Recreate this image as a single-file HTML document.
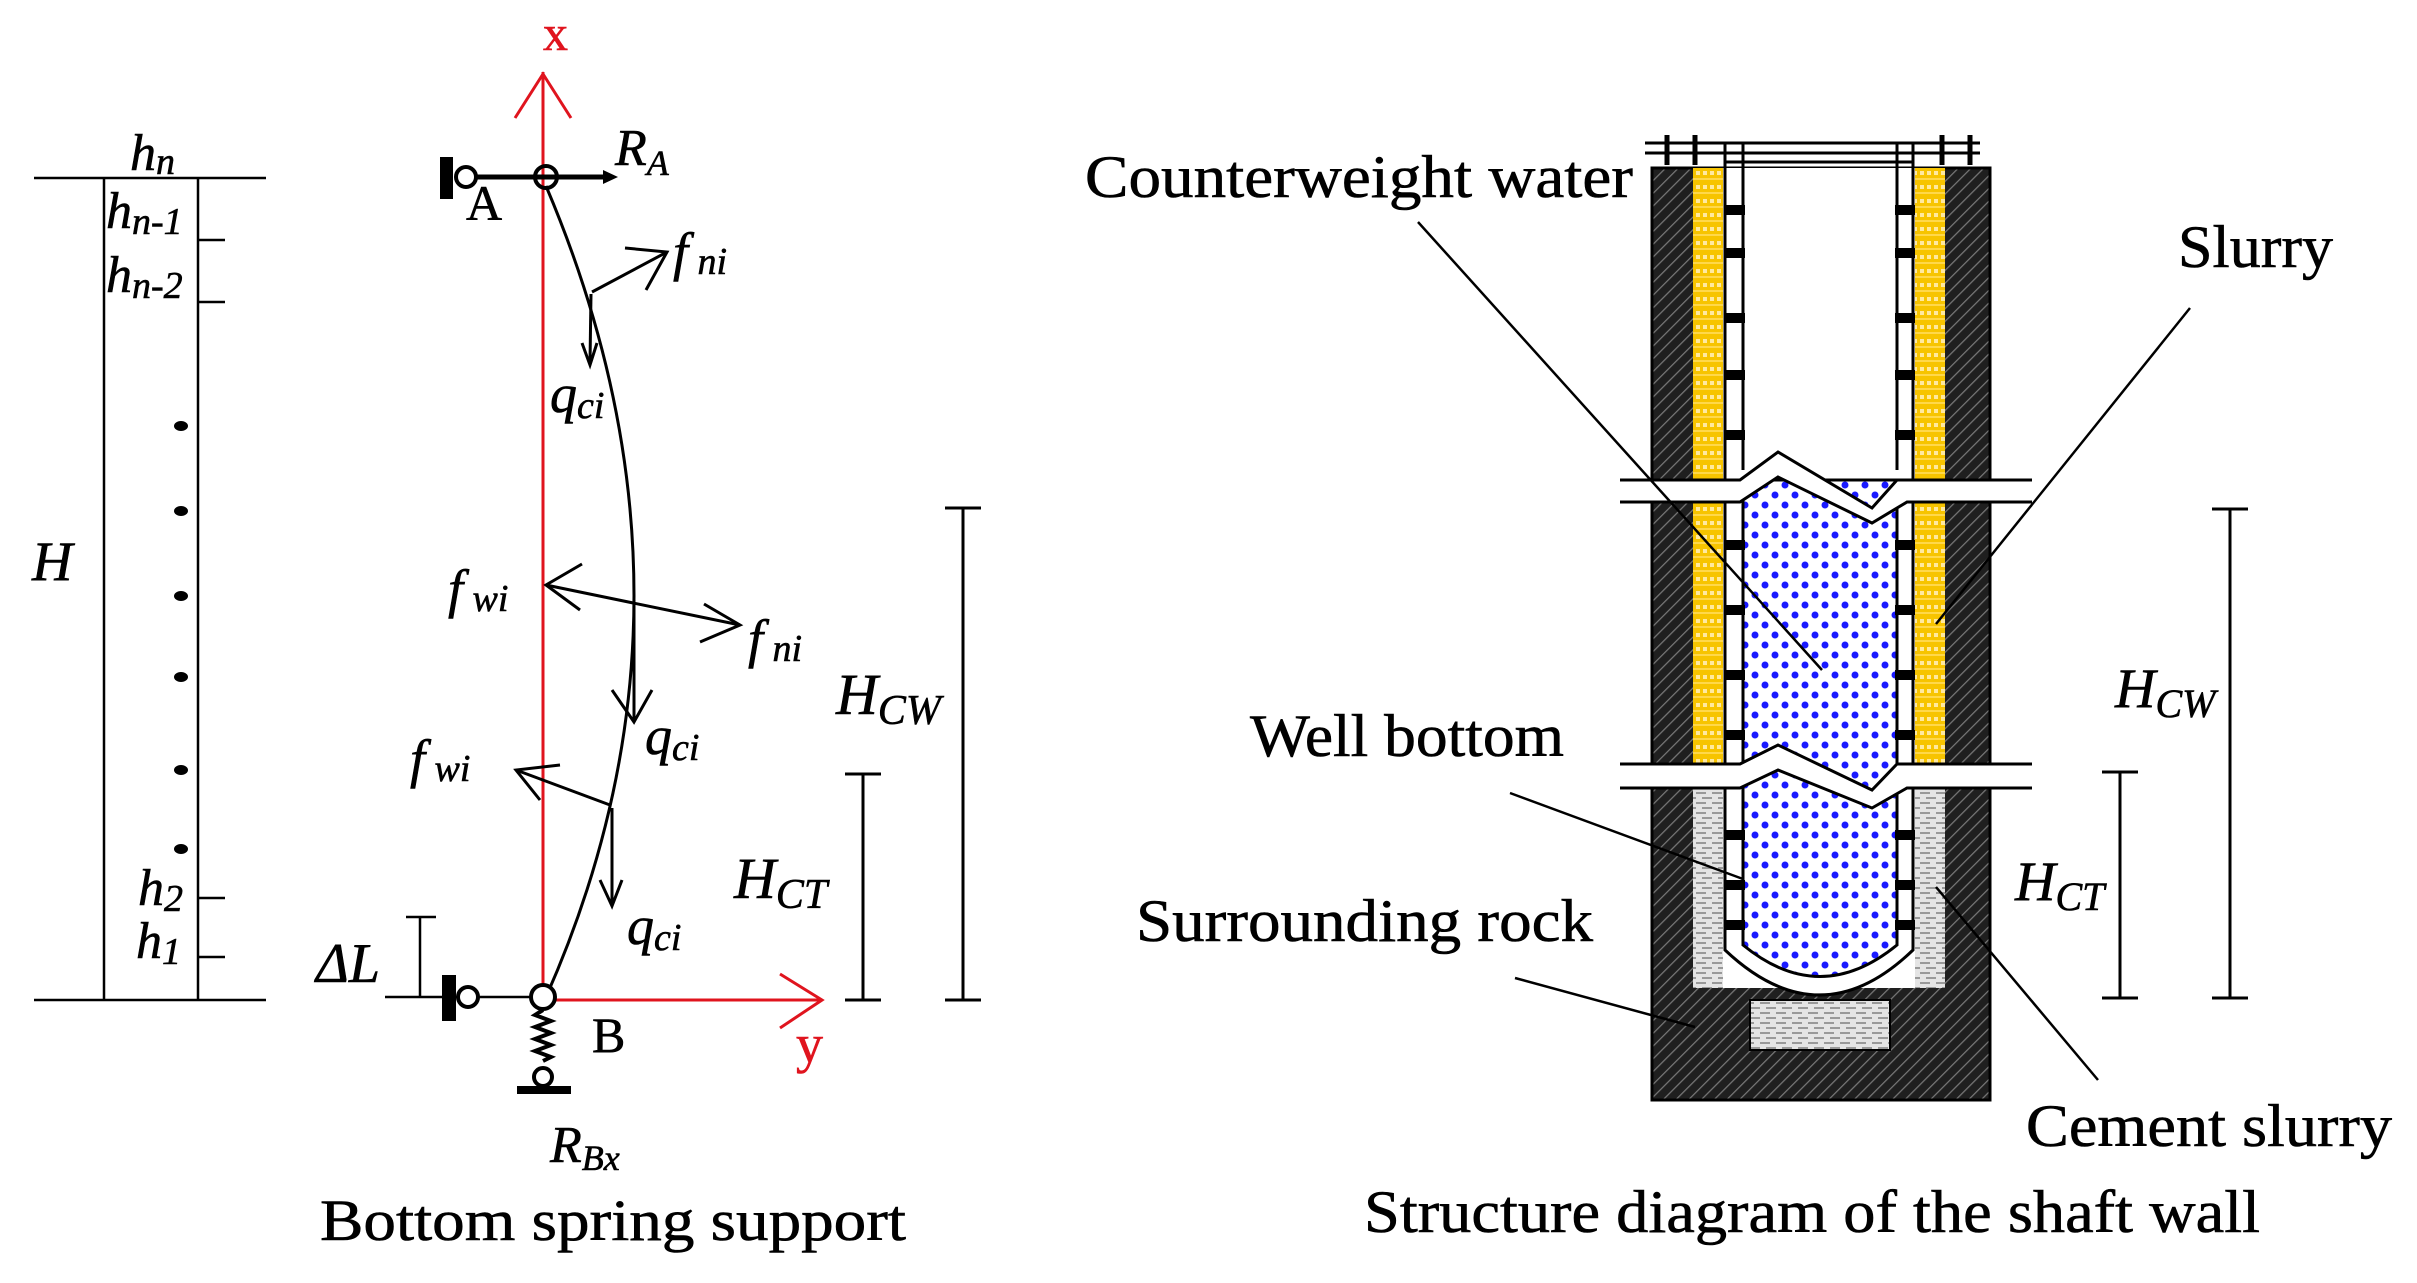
<!DOCTYPE html>
<html><head><meta charset="utf-8"><style>
html,body{margin:0;padding:0;background:#fff;}
svg{display:block;}
text{font-family:"Liberation Serif",serif;fill:#000;stroke:#000;stroke-width:0.6px;}
.it{font-style:italic;}
</style></head><body>
<svg width="2417" height="1283" viewBox="0 0 2417 1283" xmlns="http://www.w3.org/2000/svg">
<defs>
<pattern id="hatch" width="9" height="9" patternUnits="userSpaceOnUse" patternTransform="rotate(45)">
<rect width="9" height="9" fill="#1f1f1f"/><line x1="0" y1="0" x2="0" y2="9" stroke="#777" stroke-width="2.5"/>
</pattern>
<pattern id="yel" width="14" height="14" patternUnits="userSpaceOnUse">
<rect width="14" height="14" fill="#f7c400"/><rect x="2" y="3" width="4" height="4" fill="#ffe9a0"/><rect x="9" y="3" width="4" height="4" fill="#ffe9a0"/><rect x="0" y="10" width="14" height="2" fill="#ffd84a"/>
</pattern>
<pattern id="grey" width="16" height="10" patternUnits="userSpaceOnUse">
<rect width="16" height="10" fill="#e4e4e4"/><line x1="0" y1="3" x2="10" y2="3" stroke="#999" stroke-width="2"/><line x1="6" y1="8" x2="16" y2="8" stroke="#999" stroke-width="2"/>
</pattern>
<pattern id="dots" width="20" height="20" patternUnits="userSpaceOnUse">
<rect width="20" height="20" fill="#fff"/><circle cx="5" cy="5" r="3.5" fill="#1a1aff"/><circle cx="15" cy="15" r="3.5" fill="#1a1aff"/>
</pattern>
</defs>

<!-- LEFT: height column -->
<g stroke="#000" stroke-width="2.5" fill="none">
<line x1="34" y1="178" x2="266" y2="178"/>
<line x1="34" y1="1000" x2="266" y2="1000"/>
<line x1="104" y1="178" x2="104" y2="1000"/>
<line x1="198" y1="178" x2="198" y2="1000"/>
<line x1="198" y1="240" x2="225" y2="240"/>
<line x1="198" y1="302" x2="225" y2="302"/>
<line x1="198" y1="898" x2="225" y2="898"/>
<line x1="198" y1="957" x2="225" y2="957"/>
</g>
<g fill="#000">
<ellipse cx="181" cy="426" rx="7" ry="5"/><ellipse cx="181" cy="511" rx="7" ry="5"/><ellipse cx="181" cy="596" rx="7" ry="5"/>
<ellipse cx="181" cy="677" rx="7" ry="5"/><ellipse cx="181" cy="770" rx="7" ry="5"/><ellipse cx="181" cy="849" rx="7" ry="5"/>
</g>
<text class="it" x="130" y="170" font-size="52">h<tspan font-size="38" dy="4">n</tspan></text>
<text class="it" x="106" y="228" font-size="52">h<tspan font-size="38" dy="6">n-1</tspan></text>
<text class="it" x="106" y="292" font-size="52">h<tspan font-size="38" dy="6">n-2</tspan></text>
<text class="it" x="138" y="905" font-size="52">h<tspan font-size="38" dy="6">2</tspan></text>
<text class="it" x="136" y="958" font-size="52">h<tspan font-size="38" dy="6">1</tspan></text>
<text class="it" x="32" y="580" font-size="56">H</text>

<!-- MIDDLE: beam model -->
<g stroke="#e0141e" stroke-width="3" fill="none">
<line x1="543" y1="72" x2="543" y2="1000"/>
<polyline points="515,118 543,74 571,118"/>
<line x1="543" y1="1000" x2="822" y2="1000"/>
<polyline points="780,974 822,1000 780,1028"/>
</g>
<text x="543" y="50" font-size="50" style="fill:#e0141e;stroke:#e0141e">x</text>
<text x="796" y="1062" font-size="54" style="fill:#e0141e;stroke:#e0141e">y</text>

<!-- support A -->
<rect x="440" y="157" width="13" height="42" fill="#000"/>
<circle cx="466" cy="177" r="10" fill="#fff" stroke="#000" stroke-width="4"/>
<line x1="476" y1="177" x2="605" y2="177" stroke="#000" stroke-width="5"/>
<polygon points="603,170 618,177 603,184" fill="#000"/>
<circle cx="546" cy="177" r="11" fill="none" stroke="#000" stroke-width="4"/>
<text x="466" y="220" font-size="50">A</text>
<text class="it" x="615" y="165" font-size="52">R<tspan font-size="36" dy="10">A</tspan></text>

<!-- deflection curve -->
<path d="M546,186 Q722,600 546,997" fill="none" stroke="#000" stroke-width="3"/>

<g stroke="#000" stroke-width="3" fill="none">
<line x1="592" y1="292" x2="667" y2="252"/>
<polyline points="625,248 667,252 646,290"/>
<line x1="591" y1="294" x2="590" y2="363"/>
<polyline points="582,343 590,365 597,343"/>
<line x1="546" y1="585" x2="740" y2="625"/>
<polyline points="582,564 546,585 580,610"/>
<polyline points="704,604 740,625 700,642"/>
<line x1="634" y1="600" x2="634" y2="720"/>
<polyline points="612,690 634,722 652,690"/>
<line x1="610" y1="805" x2="516" y2="770"/>
<polyline points="560,765 516,770 540,800"/>
<line x1="612" y1="808" x2="612" y2="904"/>
<polyline points="600,880 612,906 622,880"/>
</g>
<text class="it" x="673" y="270" font-size="54">f<tspan font-size="38" dy="4"> ni</tspan></text>
<text class="it" x="550" y="412" font-size="54">q<tspan font-size="38" dy="6">ci</tspan></text>
<text class="it" x="448" y="607" font-size="54">f<tspan font-size="38" dy="4"> wi</tspan></text>
<text class="it" x="748" y="657" font-size="54">f<tspan font-size="38" dy="4"> ni</tspan></text>
<text class="it" x="645" y="754" font-size="54">q<tspan font-size="38" dy="6">ci</tspan></text>
<text class="it" x="410" y="777" font-size="54">f<tspan font-size="38" dy="4"> wi</tspan></text>
<text class="it" x="627" y="944" font-size="54">q<tspan font-size="38" dy="6">ci</tspan></text>

<!-- delta L -->
<g stroke="#000" stroke-width="2.5">
<line x1="420" y1="917" x2="420" y2="997"/>
<line x1="406" y1="917" x2="436" y2="917"/>
<line x1="385" y1="997" x2="543" y2="997"/>
</g>
<text class="it" x="316" y="982" font-size="56">ΔL</text>

<!-- support B -->
<rect x="442" y="975" width="14" height="46" fill="#000"/>
<circle cx="468" cy="997" r="10" fill="#fff" stroke="#000" stroke-width="4"/>
<circle cx="543" cy="997" r="12" fill="#fff" stroke="#000" stroke-width="4"/>
<path d="M543,1010 l-8,5 l16,6 l-16,6 l16,6 l-16,6 l16,6 l-16,6 l16,6 l-8,4" fill="none" stroke="#000" stroke-width="4"/>
<circle cx="543" cy="1077" r="9" fill="#fff" stroke="#000" stroke-width="4"/>
<rect x="517" y="1086" width="54" height="8" fill="#000"/>
<text x="592" y="1052" font-size="50">B</text>
<text class="it" x="550" y="1162" font-size="52">R<tspan font-size="36" dy="8">Bx</tspan></text>
<text x="320" y="1240" font-size="58" textLength="586" lengthAdjust="spacingAndGlyphs">Bottom spring support</text>

<g stroke="#000" stroke-width="3">
<line x1="863" y1="774" x2="863" y2="1000"/><line x1="845" y1="774" x2="881" y2="774"/><line x1="845" y1="1000" x2="881" y2="1000"/>
<line x1="963" y1="508" x2="963" y2="1000"/><line x1="945" y1="508" x2="981" y2="508"/><line x1="945" y1="1000" x2="981" y2="1000"/>
</g>
<text class="it" x="836" y="714" font-size="58">H<tspan font-size="42" dy="10">CW</tspan></text>
<text class="it" x="734" y="898" font-size="58">H<tspan font-size="42" dy="10">CT</tspan></text>

<!-- RIGHT: shaft wall -->
<rect x="1652" y="168" width="338" height="932" fill="url(#hatch)" stroke="#000" stroke-width="3"/>
<rect x="1693" y="168" width="30" height="620" fill="url(#yel)"/>
<rect x="1913" y="168" width="32" height="620" fill="url(#yel)"/>
<rect x="1693" y="788" width="32" height="200" fill="url(#grey)"/>
<rect x="1913" y="788" width="32" height="200" fill="url(#grey)"/>
<rect x="1723" y="168" width="192" height="820" fill="#fff"/>
<rect x="1750" y="1000" width="140" height="50" fill="url(#grey)" stroke="#000" stroke-width="2"/>
<path d="M1725,168 L1725,950 Q1820,1040 1913,950 L1913,168" fill="#fff" stroke="#000" stroke-width="3"/>
<path d="M1743,480 L1743,945 Q1820,1008 1897,945 L1897,480 Z" fill="url(#dots)" stroke="#000" stroke-width="3"/>
<rect x="1743" y="168" width="154" height="300" fill="#fff"/>
<line x1="1743" y1="168" x2="1743" y2="470" stroke="#000" stroke-width="3"/>
<line x1="1897" y1="168" x2="1897" y2="470" stroke="#000" stroke-width="3"/>
<g fill="#000">
<rect x="1725" y="205" width="20" height="10"/><rect x="1895" y="205" width="20" height="10"/>
<rect x="1725" y="248" width="20" height="10"/><rect x="1895" y="248" width="20" height="10"/>
<rect x="1725" y="313" width="20" height="10"/><rect x="1895" y="313" width="20" height="10"/>
<rect x="1725" y="370" width="20" height="10"/><rect x="1895" y="370" width="20" height="10"/>
<rect x="1725" y="430" width="20" height="10"/><rect x="1895" y="430" width="20" height="10"/>
<rect x="1725" y="540" width="20" height="10"/><rect x="1895" y="540" width="20" height="10"/>
<rect x="1725" y="605" width="20" height="10"/><rect x="1895" y="605" width="20" height="10"/>
<rect x="1725" y="670" width="20" height="10"/><rect x="1895" y="670" width="20" height="10"/>
<rect x="1725" y="730" width="20" height="10"/><rect x="1895" y="730" width="20" height="10"/>
<rect x="1725" y="830" width="20" height="10"/><rect x="1895" y="830" width="20" height="10"/>
<rect x="1725" y="880" width="20" height="10"/><rect x="1895" y="880" width="20" height="10"/>
<rect x="1725" y="920" width="20" height="10"/><rect x="1895" y="920" width="20" height="10"/>
</g>
<g stroke="#000" stroke-width="3">
<line x1="1645" y1="143" x2="1980" y2="143"/>
<line x1="1645" y1="153" x2="1980" y2="153"/>
<line x1="1725" y1="162" x2="1913" y2="162"/>
<line x1="1667" y1="135" x2="1667" y2="165" stroke-width="5"/>
<line x1="1695" y1="135" x2="1695" y2="165" stroke-width="5"/>
<line x1="1942" y1="135" x2="1942" y2="165" stroke-width="5"/>
<line x1="1970" y1="135" x2="1970" y2="165" stroke-width="5"/>
<line x1="1725" y1="143" x2="1725" y2="168"/><line x1="1743" y1="143" x2="1743" y2="168"/>
<line x1="1897" y1="143" x2="1897" y2="168"/><line x1="1913" y1="143" x2="1913" y2="168"/>
</g>
<polygon points="1620,480 1740,480 1778,452 1872,508 1897,480 2032,480 2032,502 1907,502 1872,523 1778,477 1740,502 1620,502" fill="#fff"/>
<polyline points="1620,480 1740,480 1778,452 1872,508 1897,480 2032,480" fill="none" stroke="#000" stroke-width="3"/>
<polyline points="1620,502 1740,502 1778,477 1872,523 1907,502 2032,502" fill="none" stroke="#000" stroke-width="3"/>
<polygon points="1620,764 1740,764 1778,745 1872,790 1897,764 2032,764 2032,788 1907,788 1872,808 1778,770 1740,788 1620,788" fill="#fff"/>
<polyline points="1620,764 1740,764 1778,745 1872,790 1897,764 2032,764" fill="none" stroke="#000" stroke-width="3"/>
<polyline points="1620,788 1740,788 1778,770 1872,808 1907,788 2032,788" fill="none" stroke="#000" stroke-width="3"/>

<g stroke="#000" stroke-width="2.5">
<line x1="1418" y1="222" x2="1822" y2="670"/>
<line x1="2190" y1="308" x2="1936" y2="624"/>
<line x1="1510" y1="793" x2="1743" y2="879"/>
<line x1="1515" y1="978" x2="1695" y2="1027"/>
<line x1="2098" y1="1080" x2="1936" y2="887"/>
</g>
<text x="1085" y="197" font-size="60" textLength="548" lengthAdjust="spacingAndGlyphs">Counterweight water</text>
<text x="2178" y="267" font-size="60" textLength="155" lengthAdjust="spacingAndGlyphs">Slurry</text>
<text x="1250" y="756" font-size="60" textLength="314" lengthAdjust="spacingAndGlyphs">Well bottom</text>
<text x="1136" y="941" font-size="60" textLength="457" lengthAdjust="spacingAndGlyphs">Surrounding rock</text>
<text x="2026" y="1146" font-size="60" textLength="366" lengthAdjust="spacingAndGlyphs">Cement slurry</text>
<text x="1364" y="1232" font-size="60" textLength="896" lengthAdjust="spacingAndGlyphs">Structure diagram of the shaft wall</text>

<g stroke="#000" stroke-width="3">
<line x1="2230" y1="509" x2="2230" y2="998"/><line x1="2212" y1="509" x2="2248" y2="509"/><line x1="2212" y1="998" x2="2248" y2="998"/>
<line x1="2120" y1="772" x2="2120" y2="998"/><line x1="2102" y1="772" x2="2138" y2="772"/><line x1="2102" y1="998" x2="2138" y2="998"/>
</g>
<text class="it" x="2115" y="707" font-size="56">H<tspan font-size="40" dy="10">CW</tspan></text>
<text class="it" x="2015" y="900" font-size="56">H<tspan font-size="40" dy="10">CT</tspan></text>
</svg>
</body></html>
